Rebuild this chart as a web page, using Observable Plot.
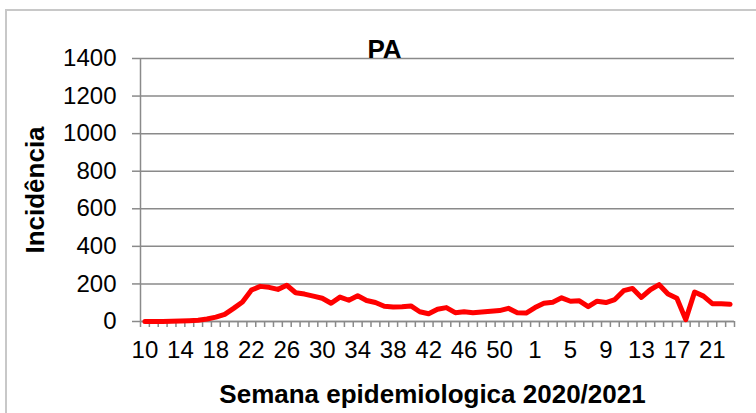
<!DOCTYPE html>
<html>
<head>
<meta charset="utf-8">
<script src="https://cdn.jsdelivr.net/npm/d3@7"></script>
<script src="https://cdn.jsdelivr.net/npm/@observablehq/plot@0.6"></script>
<style>
  html, body { margin: 0; padding: 0; background: #fff; overflow: hidden; }
  #wrap { position: relative; width: 756px; height: 413px; }
  #wrap svg { position: absolute; left: 0; top: 0; z-index: 1; }
  #border { position: absolute; left: 5px; top: 9px; width: 800px; height: 500px;
            border: 2px solid #c8c8c8; pointer-events: none; z-index: 5; }
</style>
</head>
<body>
<div id="wrap"><div id="border"></div></div>
<script>
const weeks = ["10","11","12","13","14","15","16","17","18","19","20","21","22","23","24","25","26","27","28","29",
  "30","31","32","33","34","35","36","37","38","39","40","41","42","43","44","45","46","47","48","49",
  "50","51","52","53","1","2","3","4","5","6","7","8","9","10","11","12","13","14","15","16",
  "17","18","19","20","21","22","23"];
const incidence = [0,0,0,1,2,4,7,13,23,38,
  70,104,167,187,182,171,193,153,146,135,
  124,97,130,113,137,112,101,81,77,79,
  83,52,41,65,74,47,52,47,50,54,
  58,70,47,45,74,97,103,126,108,110,
  79,108,101,117,164,176,128,169,196,146,
  124,10,157,135,95,95,92];
const yTicks = [0,200,400,600,800,1000,1200,1400];
const labelEvery = 4;
const title = "PA";
const xTitle = "Semana epidemiologica 2020/2021";
const yTitle = "Incidência";

const data = weeks.map((w, i) => ({i, week: w, value: incidence[i]}));
const labelIdx = data.filter(d => d.i % labelEvery === 0).map(d => d.i);
const boundaries = d3.range(weeks.length + 1).map(k => k - 0.5);

const font = "'Liberation Sans', Arial, sans-serif";
const gray = "#8a8a8a";

const chart = Plot.plot({
  width: 756,
  height: 413,
  marginLeft: 140,
  marginRight: 22,
  marginTop: 58,
  marginBottom: 92,
  style: {fontFamily: font, background: "#fff", color: "#000"},
  x: {type: "linear", domain: [-0.5, weeks.length - 0.5]},
  y: {domain: [0, 1400]},
  marks: [
    Plot.gridY(yTicks, {stroke: gray, strokeOpacity: 1, strokeWidth: 1.5}),
    Plot.axisY(yTicks, {tickSize: 8, tickPadding: 16, fontSize: 24, tickFormat: d => String(d), stroke: gray, strokeWidth: 1.5, label: null, fill: "#000"}),
    Plot.ruleX([-0.5], {y1: 0, y2: 1400, stroke: gray, strokeWidth: 1.5}),
    Plot.ruleY([0], {stroke: gray, strokeWidth: 1.5}),
    Plot.axisX(boundaries, {tickSize: 6, tickFormat: () => "", stroke: gray, strokeWidth: 1.5, label: null}),
    Plot.axisX(labelIdx, {tickSize: 0, tickPadding: 19, fontSize: 24, tickFormat: i => weeks[i], label: null, fill: "#000"}),
    Plot.lineY(data, {x: "i", y: "value", stroke: "#ff0000", strokeWidth: 5, strokeLinejoin: "round", strokeLinecap: "round"}),
    Plot.text([title], {frameAnchor: "top", dx: -53, dy: -9, fontSize: 26, fontWeight: "bold", textAnchor: "middle", lineAnchor: "middle", fill: "#000"}),
    Plot.text([xTitle], {frameAnchor: "bottom", dx: -5, dy: 73, fontSize: 26, fontWeight: "bold", textAnchor: "middle", lineAnchor: "middle", fill: "#000"}),
    Plot.text([yTitle], {frameAnchor: "left", dx: -105, rotate: -90, fontSize: 26, fontWeight: "bold", textAnchor: "middle", lineAnchor: "middle", fill: "#000"})
  ]
});
document.getElementById("wrap").appendChild(chart);
</script>
</body>
</html>
